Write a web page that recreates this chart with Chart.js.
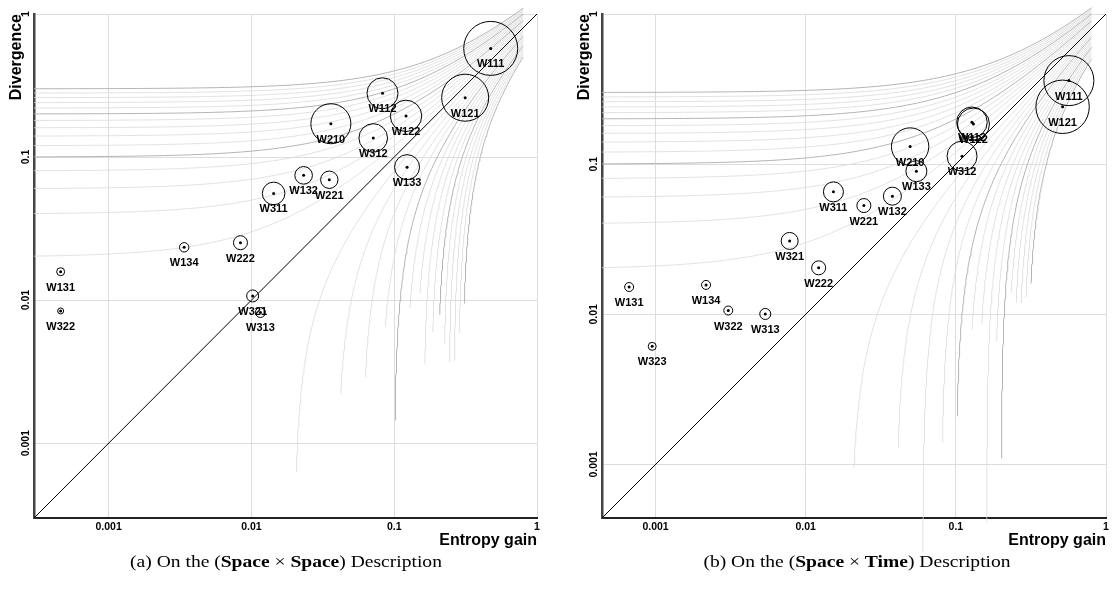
<!DOCTYPE html>
<html>
<head>
<meta charset="utf-8">
<script src="https://cdn.jsdelivr.net/npm/chart.js@4.4.1/dist/chart.umd.min.js"></script>
<style>
html,body{margin:0;padding:0;background:#fff;width:1113px;height:591px;overflow:hidden;}
.panel{position:absolute;top:0;height:560px;}
#pa{left:0;width:556px;}
#pb{left:556px;width:557px;}
.cap{position:absolute;top:552px;font-family:"Liberation Serif","Times New Roman",serif;font-size:17px;line-height:20px;white-space:nowrap;color:#000;transform:translateX(-50%) scaleX(1.15);transform-origin:center;}
</style>
</head>
<body>
<div class="panel" id="pa"><canvas id="ca"></canvas></div>
<div class="panel" id="pb"><canvas id="cb"></canvas></div>
<div class="cap" style="left:286px">(a) On the (<b>Space</b> × <b>Space</b>) Description</div>
<div class="cap" style="left:857px">(b) On the (<b>Space</b> × <b>Time</b>) Description</div>
<script>
// ---------- data ----------
const tickValues = [0.001, 0.01, 0.1, 1];
const tickLabels = ['0.001', '0.01', '0.1', '1'];
const axisMinA = 0.0003;
const axisMinB = 0.00044;

// (a) Space x Space
const namesA = ['W111','W121','W112','W122','W210','W312','W133','W132','W221','W311','W134','W222','W131','W322','W321','W313'];
const gainA  = [0.474, 0.314, 0.0828, 0.121, 0.036, 0.0713, 0.123, 0.0232, 0.0351, 0.0143, 0.00338, 0.00838, 0.000461, 0.000461, 0.0102, 0.01156];
const divA   = [0.575, 0.26, 0.279, 0.194, 0.171, 0.136, 0.085, 0.0745, 0.0694, 0.0557, 0.0234, 0.0252, 0.0158, 0.0084, 0.0107, 0.0082];
const bubbleA = [27, 23.5, 15.5, 15.7, 20, 14.3, 12.5, 8.8, 8.7, 11.3, 4.7, 7, 4, 3, 6, 5];

// (b) Space x Time
const namesB = ['W111','W121','W112','W122','W210','W133','W312','W311','W132','W221','W321','W222','W131','W134','W322','W313','W323'];
const gainB  = [0.566, 0.514, 0.128, 0.131, 0.0496, 0.0546, 0.110, 0.0153, 0.0378, 0.0244, 0.00782, 0.0122, 0.000667, 0.00217, 0.00305, 0.00538, 0.00095];
const divB   = [0.36, 0.241, 0.19, 0.185, 0.131, 0.0898, 0.113, 0.0654, 0.0612, 0.053, 0.0308, 0.0204, 0.0152, 0.0157, 0.0106, 0.01005, 0.00612];
const bubbleB = [25, 26.7, 15.3, 16, 18.7, 10.5, 15, 10, 9, 7, 8.5, 7, 4.5, 4.5, 4.5, 5.5, 4];

// background iso-lines: |Divergence - Entropy gain| = level
const guideLevels = [0.02,0.04,0.06,0.08,0.10,0.12,0.14,0.16,0.18,0.20,0.22,0.24,0.26,0.28,0.30];
const guideEndGain = 0.8;
// lowest divergence at which each lower iso-line begins
const lowerStartA = [0.00063,0.0022,0.0029,0.0065,0.00145,0.0088,0.0112,0.0036,0.006,0.0079,0.005,0.0037,0.0038,0.0059,0.0095];
const lowerStartB = [0.00095,0.0013,0.00026,0.0014,0.0021,0.0079,0.0087,0.00041,0.0066,0.0011,0.014,0.012,0.012,0.013,0.016];

// ---------- chart ----------
Chart.defaults.font.family = '"Liberation Sans", Arial, sans-serif';
Chart.defaults.color = '#000';

const labelPlugin = {
  id: 'ptLabels',
  afterDatasetsDraw(chart, args, opts) {
    const ctx = chart.ctx;
    const meta = chart.getDatasetMeta(0);
    ctx.save();
    ctx.font = 'bold 11px "Liberation Sans", Arial, sans-serif';
    ctx.fillStyle = '#000';
    ctx.textAlign = 'center';
    ctx.textBaseline = 'middle';
    meta.data.forEach((el, i) => ctx.fillText(opts.names[i], el.x, el.y + 16));
    ctx.restore();
  }
};

function buildPanel(canvasId, axisMin, names, gain, div, bubble, lowerStart, padL, padR) {
  const N = 90;
  const guides = [];
  guideLevels.forEach((c, i) => {
    const dark = (i % 5 === 4);
    const up = [];
    for (let k = 0; k <= N; k++) {
      const x = axisMin * Math.pow(guideEndGain / axisMin, k / N);
      up.push({x: x, y: x + c});
    }
    const lo = [];
    const y0 = lowerStart[i], y1 = guideEndGain - c;
    for (let k = 0; k <= N; k++) {
      const y = y0 * Math.pow(y1 / y0, k / N);
      lo.push({x: y + c, y: y});
    }
    [up, lo].forEach(d => guides.push({
      type: 'scatter', data: d, showLine: true, pointRadius: 0,
      borderColor: dark ? '#b4b4b4' : '#dadada', borderWidth: dark ? 1 : 0.8,
      clip: false, order: 5
    }));
  });

  const datasets = [
    { type: 'bubble', data: gain.map((g, i) => ({x: g, y: div[i], r: bubble[i]})),
      backgroundColor: 'rgba(0,0,0,0)', borderColor: '#000', borderWidth: 1, order: 2, clip: false },
    { type: 'scatter', data: gain.map((g, i) => ({x: g, y: div[i]})),
      pointRadius: 1.5, backgroundColor: '#000', borderWidth: 0, order: 1 },
    { type: 'scatter', data: [{x: axisMin, y: axisMin}, {x: 1, y: 1}], showLine: true,
      pointRadius: 0, borderColor: '#000', borderWidth: 1, order: 3 }
  ].concat(guides);

  const tickFont = {size: 10.5, weight: 'bold'};
  const titleFont = {size: 16, weight: 'bold'};
  const setTicks = s => { s.ticks = tickValues.map(v => ({value: v})); };
  const fmt = (v, i) => tickLabels[i];

  new Chart(document.getElementById(canvasId), {
    type: 'scatter',
    data: {datasets},
    plugins: [labelPlugin],
    options: {
      responsive: true, maintainAspectRatio: false, animation: false, events: [],
      layout: {autoPadding: false, padding: {left: padL, right: padR, top: 14, bottom: 7}},
      plugins: {legend: {display: false}, tooltip: {enabled: false}, ptLabels: {names}},
      scales: {
        x: {
          type: 'logarithmic', min: axisMin, max: 1,
          afterBuildTicks: setTicks,
          afterFit: s => { s.height = 35; },
          grid: {color: '#dddddd', lineWidth: 1, drawTicks: false},
          border: {display: true, color: '#222', width: 2},
          ticks: {autoSkip: false, minRotation: 0, maxRotation: 0, padding: 3, font: tickFont, color: '#000', callback: fmt},
          title: {display: true, text: 'Entropy gain', align: 'end', font: titleFont, color: '#000', padding: {top: 0, bottom: 2.4}}
        },
        y: {
          type: 'logarithmic', min: axisMin, max: 1,
          afterBuildTicks: setTicks,
          afterFit: s => { s.width = 30; },
          grid: {color: '#dddddd', lineWidth: 1, drawTicks: false},
          border: {display: true, color: '#444', width: 2.5},
          ticks: {autoSkip: false, minRotation: 90, maxRotation: 90, crossAlign: 'center', padding: -5.1, font: tickFont, color: '#000', callback: fmt},
          title: {display: true, text: 'Divergence', align: 'end', font: titleFont, color: '#000', padding: {top: 3.4, bottom: 0}}
        }
      }
    }
  });
}

buildPanel('ca', axisMinA, namesA, gainA, divA, bubbleA, lowerStartA, 4, 19);
buildPanel('cb', axisMinB, namesB, gainB, divB, bubbleB, lowerStartB, 16, 7);
</script>
</body>
</html>
